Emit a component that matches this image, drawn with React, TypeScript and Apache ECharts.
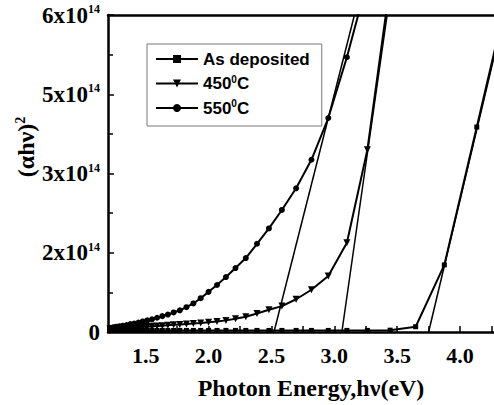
import React, { useEffect, useRef } from "react";
import * as echarts from "echarts";

// Photon energy grid (eV) shared by the measured series
const ENERGY = [1.192, 1.216, 1.24, 1.265, 1.292, 1.319, 1.348, 1.378, 1.409, 1.442, 1.476, 1.512, 1.55, 1.59, 1.632, 1.676, 1.722, 1.771, 1.824, 1.879, 1.937, 2.0, 2.067, 2.138, 2.214, 2.296, 2.385, 2.48, 2.583, 2.696, 2.818, 2.952, 3.1, 3.263, 3.444, 3.647, 3.875, 4.133, 4.429];

// (αhν)² in units of 10^14
const AS_DEPOSITED = [0.05, 0.05, 0.045, 0.045, 0.04, 0.04, 0.04, 0.04, 0.035, 0.035, 0.035, 0.035, 0.035, 0.03, 0.03, 0.03, 0.03, 0.03, 0.03, 0.03, 0.03, 0.03, 0.03, 0.03, 0.03, 0.03, 0.03, 0.03, 0.03, 0.03, 0.03, 0.03, 0.03, 0.03, 0.035, 0.1, 1.27, 3.88, 6.9];
const T450 = [0.06, 0.06, 0.065, 0.07, 0.07, 0.075, 0.08, 0.085, 0.09, 0.095, 0.1, 0.105, 0.11, 0.115, 0.12, 0.13, 0.135, 0.14, 0.15, 0.16, 0.17, 0.185, 0.2, 0.22, 0.25, 0.29, 0.35, 0.42, 0.49, 0.62, 0.8, 1.06, 1.69, 3.45, 6.6];
const T550 = [0.07, 0.08, 0.09, 0.1, 0.11, 0.12, 0.13, 0.15, 0.16, 0.18, 0.2, 0.22, 0.24, 0.27, 0.3, 0.33, 0.37, 0.41, 0.47, 0.54, 0.64, 0.76, 0.89, 1.04, 1.21, 1.4, 1.67, 1.96, 2.31, 2.72, 3.26, 4.05, 5.2, 6.65];

// Linear extrapolation lines (band gap fits): [x, y] endpoints
const FIT_550 = [[2.52, 0], [3.16, 6]];
const FIT_450 = [[3.06, 0], [3.42, 6]];
const FIT_AS_DEP = [[3.75, 0], [4.35, 6]];

const SERIES_NAMES = ["As deposited", "450°C", "550°C"];
const X_TICKS = [1.25, 1.5, 1.75, 2.0, 2.25, 2.5, 2.75, 3.0, 3.25, 3.5, 3.75, 4.0, 4.25];
const X_LABELS = [1.5, 2.0, 2.5, 3.0, 3.5, 4.0];

const SERIF = "'Liberation Serif', 'Times New Roman', serif";
const SANS = "'Liberation Sans', Arial, sans-serif";

function zip(ys: number[]) {
  return ys.map((y, i) => [ENERGY[i], y]);
}

export default function App() {
  const ref = useRef<HTMLDivElement>(null);
  useEffect(() => {
    if (!ref.current) return;
    const chart = echarts.init(ref.current, null, { renderer: "svg" });
    const lineBase = {
      type: "line",
      lineStyle: { color: "#000", width: 2 },
      itemStyle: { color: "#000" },
      clip: true,
    };
    const fitBase = {
      type: "line",
      symbol: "none",
      silent: true,
      lineStyle: { color: "#000", width: 1.5 },
      clip: true,
    };
    chart.setOption({
      animation: false,
      backgroundColor: "#fff",
      grid: { left: 108, top: 15, right: 0, bottom: 73, containLabel: false },
      legend: {
        data: SERIES_NAMES,
        orient: "vertical",
        left: 147,
        top: 44,
        padding: [6, 12, 9, 8],
        itemGap: 6,
        itemWidth: 42,
        itemHeight: 10,
        borderColor: "#777",
        borderWidth: 1,
        formatter: (name: string) =>
          name.includes("°") ? `{t|${name.replace("°C", "")}}{s|0}{t|C}` : `{t|${name}}`,
        textStyle: {
          fontFamily: SANS,
          fontWeight: "bold",
          fontSize: 17,
          color: "#000",
          lineHeight: 18,
          rich: {
            t: { fontFamily: SANS, fontWeight: "bold", fontSize: 17, color: "#000", lineHeight: 18 },
            s: { fontFamily: SANS, fontWeight: "bold", fontSize: 10, color: "#000", padding: [0, 0, 9, 0] },
          },
        },
      },
      xAxis: [
        {
          type: "value",
          min: 1.2,
          max: 4.27,
          axisLine: { show: true, lineStyle: { color: "#000", width: 2.5 } },
          axisTick: {
            show: true,
            inside: true,
            length: 6,
            customValues: X_TICKS,
            lineStyle: { color: "#000", width: 1.5 },
          },
          axisLabel: {
            customValues: X_LABELS,
            formatter: (v: number) => v.toFixed(1),
            fontFamily: SERIF,
            fontWeight: "bold",
            fontSize: 22,
            color: "#000",
            margin: 12,
          },
          splitLine: { show: false },
        },
        {
          type: "value",
          position: "top",
          min: 1.2,
          max: 4.27,
          axisLine: { show: true, lineStyle: { color: "#000", width: 2.5 } },
          axisTick: { show: false },
          axisLabel: { show: false },
          splitLine: { show: false },
        },
      ],
      yAxis: {
        type: "value",
        min: 0,
        max: 6,
        interval: 1.5,
        axisLine: { show: true, lineStyle: { color: "#000", width: 2.5 } },
        axisTick: { show: true, inside: true, length: 6, lineStyle: { color: "#000", width: 1.5 } },
        minorTick: { show: true, splitNumber: 2, length: 5, lineStyle: { color: "#000", width: 1.5 } },
        splitLine: { show: false },
        axisLabel: {
          margin: 8,
          formatter: (v: number) => (v === 0 ? "{b|0}" : `{b|${Math.round(v)}x10}{s|14}`),
          rich: {
            b: { fontFamily: SERIF, fontWeight: "bold", fontSize: 23, color: "#000", lineHeight: 24 },
            s: { fontFamily: SERIF, fontWeight: "bold", fontSize: 12, color: "#000", padding: [0, 0, 12, 0] },
          },
        },
      },
      series: [
        { ...lineBase, name: SERIES_NAMES[0], symbol: "rect", symbolSize: 5, data: zip(AS_DEPOSITED) },
        { ...lineBase, name: SERIES_NAMES[1], symbol: "triangle", symbolRotate: 180, symbolSize: 7, data: zip(T450) },
        { ...lineBase, name: SERIES_NAMES[2], symbol: "circle", symbolSize: 6, data: zip(T550) },
        { ...fitBase, name: "fit550", data: FIT_550 },
        { ...fitBase, name: "fit450", data: FIT_450 },
        { ...fitBase, name: "fitAsDep", data: FIT_AS_DEP },
      ],
      graphic: [
        {
          type: "text",
          x: 311,
          y: 388,
          style: {
            text: "Photon Energy,hν(eV)",
            font: `bold 24px ${SERIF}`,
            fill: "#000",
            align: "center",
            verticalAlign: "middle",
          },
        },
        {
          type: "text",
          x: 26,
          y: 147,
          rotation: Math.PI / 2,
          style: {
            text: "{a|(αhν)}{s|2}",
            fill: "#000",
            align: "center",
            verticalAlign: "middle",
            rich: {
              a: { fontFamily: SERIF, fontWeight: "bold", fontSize: 24, fill: "#000", lineHeight: 26 },
              s: { fontFamily: SERIF, fontWeight: "bold", fontSize: 14, fill: "#000", padding: [0, 0, 12, 0] },
            },
          },
        },
      ],
    });
    return () => chart.dispose();
  }, []);
  return (
    <div
      ref={ref}
      style={{ position: "fixed", left: 0, top: 0, width: 494, height: 405 }}
    />
  );
}
